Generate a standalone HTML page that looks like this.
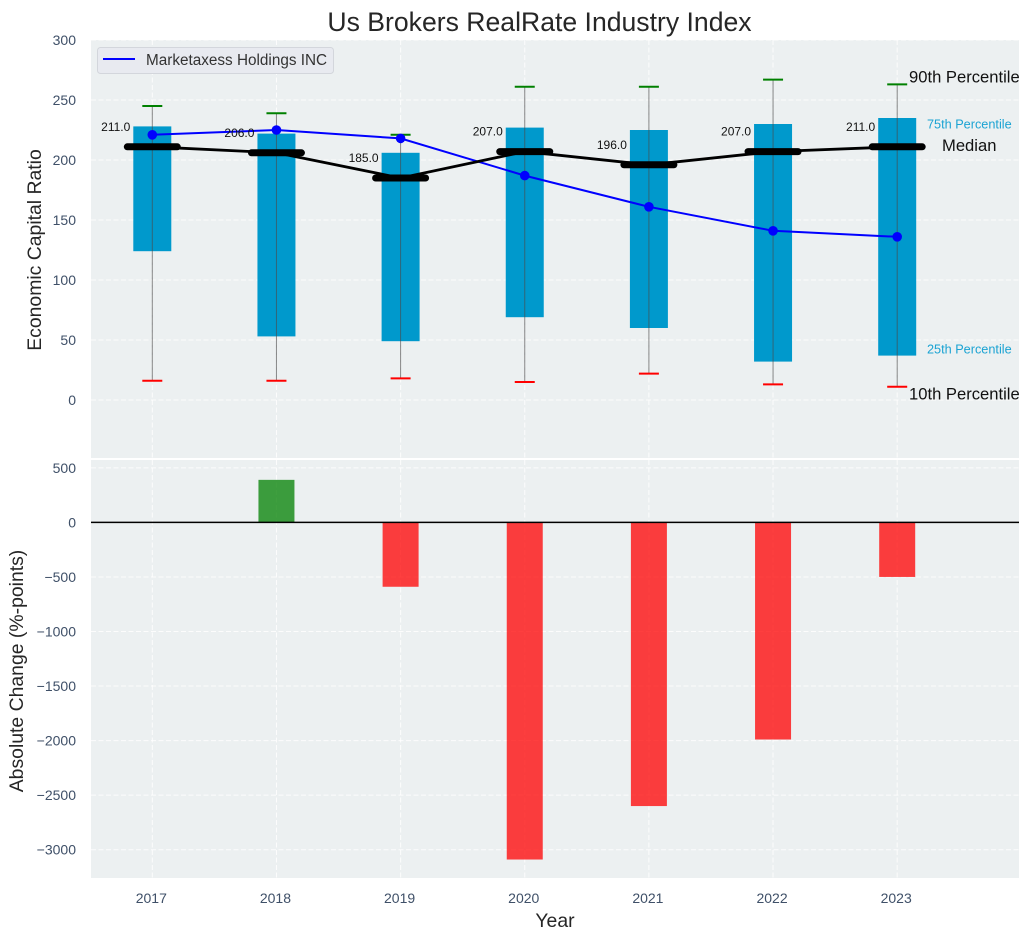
<!DOCTYPE html>
<html lang="en">
<head>
<meta charset="utf-8">
<title>Us Brokers RealRate Industry Index</title>
<style>
html,body{margin:0;padding:0;background:#fff;width:1030px;height:940px;overflow:hidden}
svg{display:block;font-family:"Liberation Sans",Arial,sans-serif}
</style>
</head>
<body>
<svg id="chart" width="1030" height="940" viewBox="0 0 1030 940" xmlns="http://www.w3.org/2000/svg"></svg>
<script>
const years = [2017, 2018, 2019, 2020, 2021, 2022, 2023];
const p90 = [245, 239, 221, 261, 261, 267, 263];
const p75 = [228, 222, 206, 227, 225, 230, 235];
const median = [211, 206, 185, 207, 196, 207, 211];
const p25 = [124, 53, 49, 69, 60, 32, 37];
const p10 = [16, 16, 18, 15, 22, 13, 11];
const company = [221, 225, 218, 187, 161, 141, 136];
const absoluteChange = [0, 390, -590, -3090, -2600, -1990, -500];
const topTicks = [0, 50, 100, 150, 200, 250, 300];
const bottomTicks = [-3000, -2500, -2000, -1500, -1000, -500, 0, 500];

const svg = document.getElementById('chart');
const NS = 'http://www.w3.org/2000/svg';
const AX = {left: 91, right: 1019, topStart: 40, topEnd: 458, botStart: 460, botEnd: 878};

function xScale(i) { return 152.3 + i * 124.15; }
function yTop(v) { return 400 - v * 1.2; }
function yBot(v) { return 522.4 - v * 0.1091; }

function add(tag, attrs, text) {
  const el = document.createElementNS(NS, tag);
  for (const k in attrs) el.setAttribute(k, attrs[k]);
  if (text !== undefined) el.textContent = text;
  svg.appendChild(el);
  return el;
}
function line(x1, y1, x2, y2, stroke, width, extra) {
  return add('line', Object.assign({x1: x1, y1: y1, x2: x2, y2: y2, stroke: stroke, 'stroke-width': width}, extra || {}));
}
function fmt(v) { return String(v).replace('-', '\u2212'); }

let el;
el = add('rect', {x: AX.left, y: AX.topStart, width: AX.right - AX.left, height: AX.topEnd - AX.topStart, fill: '#ecf0f1'});


el = add('rect', {x: AX.left, y: AX.botStart, width: AX.right - AX.left, height: AX.botEnd - AX.botStart, fill: '#ecf0f1'});



const dash = {'stroke-dasharray': '5 2.5', opacity: 0.85};
topTicks.forEach(function (t) {
  el = line(AX.left, yTop(t), AX.right, yTop(t), '#fff', 1, dash);
  
  
  el = add('text', {x: 76, y: yTop(t) + 5, 'text-anchor': 'end', 'font-size': 14, fill: '#3f5068'}, fmt(t));
  
  
});
bottomTicks.forEach(function (t) {
  el = line(AX.left, yBot(t), AX.right, yBot(t), '#fff', 1, dash);
  
  
  el = add('text', {x: 76, y: yBot(t) + 5, 'text-anchor': 'end', 'font-size': 14, fill: '#3f5068'}, fmt(t));
  
  
});
years.forEach(function (yr, i) {
  const x = xScale(i);
  el = line(x, AX.topStart, x, AX.topEnd, '#fff', 1, dash);
  
  
  el = line(x, AX.botStart, x, AX.botEnd, '#fff', 1, dash);
  
  
  el = add('text', {x: x - 1, y: 903, 'text-anchor': 'middle', 'font-size': 14, fill: '#3f5068'}, String(yr));
  
  
});

/* percentile boxes */
years.forEach(function (yr, i) {
  const x = xScale(i);
  el = add('rect', {x: x - 19, y: yTop(p75[i]), width: 38, height: yTop(p25[i]) - yTop(p75[i]), fill: '#0099cc'});
  
  
});
/* whiskers and caps */
years.forEach(function (yr, i) {
  const x = xScale(i);
  el = line(x, yTop(p90[i]), x, yTop(p10[i]), '#4a4a4a', 1, {opacity: 0.65});
  
  
  el = line(x - 10, yTop(p90[i]), x + 10, yTop(p90[i]), '#008000', 2);
  
  
  el = line(x - 10, yTop(p10[i]), x + 10, yTop(p10[i]), '#ff0000', 2);
  
  
});
/* company line */
el = add('polyline', {points: company.map(function (v, i) { return xScale(i) + ',' + yTop(v); }).join(' '), fill: 'none', stroke: '#0000ff', 'stroke-width': 2});


company.forEach(function (v, i) {
  el = add('circle', {cx: xScale(i), cy: yTop(v), r: 4.8, fill: '#0000ff'});
  
  
});
/* median line */
el = add('polyline', {points: median.map(function (v, i) { return xScale(i) + ',' + yTop(v); }).join(' '), fill: 'none', stroke: '#000', 'stroke-width': 2.8});


median.forEach(function (v, i) {
  const x = xScale(i), y = yTop(v);
  el = line(x - 25, y, x + 25, y, '#000', 7, {'stroke-linecap': 'round'});
  
  
  el = add('text', {x: x - 22, y: y - 16, 'text-anchor': 'end', 'font-size': 12, fill: '#111'}, v.toFixed(1));
  
  
});
/* change bars */
absoluteChange.forEach(function (v, i) {
  if (v === 0) return;
  const x = xScale(i);
  el = add('rect', {x: x - 18, y: Math.min(yBot(v), yBot(0)), width: 36, height: Math.abs(yBot(v) - yBot(0)), fill: v > 0 ? '#008000' : '#ff0000', opacity: 0.75});
  
  
});
el = line(AX.left, yBot(0), AX.right, yBot(0), '#000', 1.5);



/* percentile annotations */
el = add('text', {x: 909, y: 82.5, 'font-size': 16.6, fill: '#111'}, '90th Percentile');


el = add('text', {x: 927, y: 128.5, 'font-size': 12.7, fill: '#1ba3d3'}, '75th Percentile');


el = add('text', {x: 942, y: 151, 'font-size': 16.6, fill: '#111'}, 'Median');


el = add('text', {x: 927, y: 353.5, 'font-size': 12.7, fill: '#1ba3d3'}, '25th Percentile');


el = add('text', {x: 909, y: 399.5, 'font-size': 16.6, fill: '#111'}, '10th Percentile');



/* legend */
el = add('rect', {x: 97.5, y: 47.5, width: 236, height: 26, rx: 3, fill: '#e8eaf0', stroke: '#d3d6dc', 'stroke-width': 1});


el = line(103, 59, 135, 59, '#0000ff', 2);


el = add('text', {x: 146, y: 65, 'font-size': 15.3, fill: '#333'}, 'Marketaxess Holdings INC');



/* titles */
el = add('text', {x: 539.5, y: 31, 'text-anchor': 'middle', 'font-size': 26.6, fill: '#262626'}, 'Us Brokers RealRate Industry Index');


el = add('text', {x: 555, y: 927, 'text-anchor': 'middle', 'font-size': 19.4, fill: '#262626'}, 'Year');


el = add('text', {transform: 'translate(41,250) rotate(-90)', 'text-anchor': 'middle', 'font-size': 19.4, fill: '#262626'}, 'Economic Capital Ratio');


el = add('text', {transform: 'translate(23,671) rotate(-90)', 'text-anchor': 'middle', 'font-size': 19.4, fill: '#262626'}, 'Absolute Change (%-points)');


</script>
</body>
</html>
